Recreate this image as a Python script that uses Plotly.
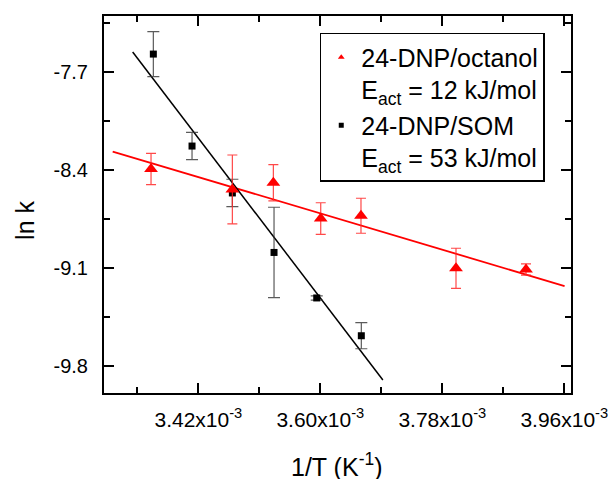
import plotly.graph_objects as go

# ---- data ----
x_som = [3.3536e-3, 3.4107e-3, 3.4702e-3, 3.5317e-3, 3.5947e-3, 3.6605e-3]
y_som = [-7.574, -8.231, -8.566, -8.991, -9.316, -9.586]
e_som = [0.161, 0.097, 0.098, 0.323, 0.015, 0.093]

x_oct = [3.3502e-3, 3.4702e-3, 3.5307e-3, 3.6006e-3, 3.6600e-3, 3.8002e-3, 3.9035e-3]
y_oct = [-8.395, -8.541, -8.493, -8.749, -8.729, -9.104, -9.113]
e_oct = [0.112, 0.246, 0.129, 0.113, 0.125, 0.143, 0.040]

fit_som_x = [3.3231e-3, 3.6923e-3]
fit_som_y = [-7.559, -9.902]
fit_oct_x = [3.2936e-3, 3.9604e-3]
fit_oct_y = [-8.271, -9.231]

x_ticks = [3.42e-3, 3.60e-3, 3.78e-3, 3.96e-3]
x_ticktext = ["3.42x10<sup>-3</sup>", "3.60x10<sup>-3</sup>", "3.78x10<sup>-3</sup>", "3.96x10<sup>-3</sup>"]
x_minor = [3.33e-3, 3.51e-3, 3.69e-3, 3.87e-3]
y_ticks = [-7.7, -8.4, -9.1, -9.8]
y_ticktext = ["-7.7", "-8.4", "-9.1", "-9.8"]
y_minor = [-7.35, -8.05, -8.75, -9.45]

name_oct = "24-DNP/octanol<br>E<sub>act</sub> = 12 kJ/mol"
name_som = "24-DNP/SOM<br>E<sub>act</sub> = 53 kJ/mol"

FONT = "Liberation Sans, Arial, sans-serif"

fig = go.Figure()

fig.add_trace(go.Scatter(x=fit_oct_x, y=fit_oct_y, mode="lines",
                         line=dict(color="#ff0000", width=1.8), showlegend=False))
fig.add_trace(go.Scatter(x=fit_som_x, y=fit_som_y, mode="lines",
                         line=dict(color="black", width=1.5), showlegend=False))

fig.add_trace(go.Scatter(x=x_som, y=y_som, mode="markers",
                         marker=dict(symbol="square", size=7, color="black"),
                         error_y=dict(type="data", array=e_som, color="rgba(50,50,50,0.8)",
                                      thickness=1.2, width=6),
                         showlegend=False))
fig.add_trace(go.Scatter(x=x_oct, y=y_oct, mode="markers",
                         marker=dict(symbol="triangle-up", size=12, color="#ff0000"),
                         error_y=dict(type="data", array=e_oct, color="rgba(255,40,40,0.85)",
                                      thickness=1.2, width=5),
                         showlegend=False))

# legend entries
fig.add_trace(go.Scatter(x=[None], y=[None], mode="markers", name=name_oct,
                         marker=dict(symbol="triangle-up", size=6, color="#ff0000")))
fig.add_trace(go.Scatter(x=[None], y=[None], mode="markers", name=name_som,
                         marker=dict(symbol="square", size=5, color="black")))

axis_common = dict(
    showline=True, linecolor="black", linewidth=2, mirror="allticks",
    ticks="inside", ticklen=10, tickwidth=2, tickcolor="black",
    showgrid=False, zeroline=False, automargin=False,
)

fig.update_xaxes(
    range=[3.2808e-3, 3.9699e-3], tickmode="array", tickvals=x_ticks, ticktext=x_ticktext,
    minor=dict(tickmode="array", tickvals=x_minor, ticks="inside", ticklen=6,
               tickwidth=2, tickcolor="black", showgrid=False),
    ticklabelstandoff=7,
    tickfont=dict(family=FONT, size=21, color="black"),
    **axis_common,
)
fig.update_yaxes(
    range=[-9.995, -7.302], tickmode="array", tickvals=y_ticks, ticktext=y_ticktext,
    minor=dict(tickmode="array", tickvals=y_minor, ticks="inside", ticklen=6,
               tickwidth=2, tickcolor="black", showgrid=False),
    ticklabelstandoff=10,
    tickfont=dict(family=FONT, size=20, color="black"),
    **axis_common,
)

fig.add_annotation(text="1/T (K<sup>-1</sup>)", xref="paper", yref="paper",
                   x=0.4986, y=-0.19, xanchor="center", yanchor="middle", showarrow=False,
                   font=dict(family=FONT, size=25, color="black"))
fig.add_annotation(text="ln k", xref="paper", yref="paper", textangle=-90,
                   x=-0.168, y=0.458, xanchor="center", yanchor="middle", showarrow=False,
                   font=dict(family=FONT, size=25, color="black"))

fig.update_layout(
    width=610, height=479,
    margin=dict(l=104, r=39, t=16, b=86, autoexpand=False),
    paper_bgcolor="white", plot_bgcolor="white",
    font=dict(family=FONT, color="black"),
    legend=dict(x=0.462, y=0.955, xanchor="left", yanchor="top",
                bordercolor="black", borderwidth=1.5, bgcolor="white",
                font=dict(family=FONT, size=25, color="black"),
                valign="top", tracegroupgap=0, itemwidth=30,
                entrywidth=188, entrywidthmode="pixels"),
)

fig.write_html("out.html", config={"displayModeBar": False},
               post_script="document.body.style.margin='0px';document.body.style.overflow='hidden';")
